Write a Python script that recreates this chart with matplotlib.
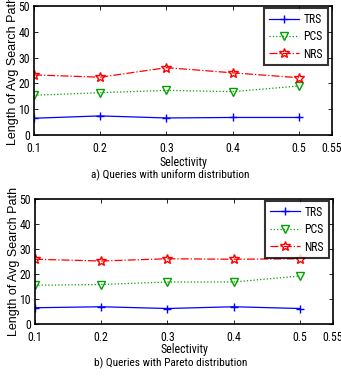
import matplotlib
matplotlib.use("Agg")
import matplotlib.pyplot as plt

plt.rcParams['font.family'] = ['Roboto Condensed', 'Liberation Sans', 'DejaVu Sans']

selectivity = [0.1, 0.2, 0.3, 0.4, 0.5]
xticks = [0.1, 0.2, 0.3, 0.4, 0.5, 0.55]
xticklabels = ['0.1', '0.2', '0.3', '0.4', '0.5', '0.55']
yticks = [0, 10, 20, 30, 40, 50]

trs_uniform = [6.5, 7.4, 6.6, 6.8, 6.8]
pcs_uniform = [15.4, 16.4, 17.3, 16.8, 19.0]
nrs_uniform = [23.3, 22.4, 26.1, 24.1, 22.2]

trs_pareto = [6.5, 6.9, 6.2, 6.9, 6.2]
pcs_pareto = [15.5, 15.8, 16.8, 16.8, 19.2]
nrs_pareto = [25.9, 25.2, 26.1, 25.9, 26.1]

captions = ['a) Queries with uniform distribution', 'b) Queries with Pareto distribution']

W, H = 341, 377
fig = plt.figure(figsize=(W / 100, H / 100), dpi=100)

def px_axes(left, top, right, bottom):
    return fig.add_axes([left / W, 1 - bottom / H, (right - left) / W, (bottom - top) / H])

panels = [
    (px_axes(34, 6, 332, 135), trs_uniform, pcs_uniform, nrs_uniform, captions[0], 175.5, -0.16),
    (px_axes(35, 199, 333, 324), trs_pareto, pcs_pareto, nrs_pareto, captions[1], 363.5, -0.155),
]

for ax, trs, pcs, nrs, cap, cy, ly in panels:
    ax.plot(selectivity, trs, color='#0000ff', linestyle='-', marker='+', markersize=6,
            markeredgewidth=1.0, linewidth=0.9, label='TRS')
    ax.plot(selectivity, pcs, color='#00a000', linestyle=':', marker='v', markersize=6,
            markerfacecolor='none', markeredgewidth=1.0, linewidth=0.9, label='PCS')
    ax.plot(selectivity, nrs, color='#ff0000', linestyle='-.', marker='*', markersize=7,
            markerfacecolor='none', markeredgewidth=1.0, linewidth=0.9, label='NRS')
    ax.set_xlim(0.1, 0.55)
    ax.set_ylim(0, 50)
    ax.set_xticks(xticks)
    ax.set_xticklabels(xticklabels)
    ax.set_yticks(yticks)
    ax.tick_params(direction='in', top=True, right=True, labelsize=8.5, length=3,
                   width=0.6, pad=3)
    ax.tick_params(axis='x', pad=5)
    for s in ax.spines.values():
        s.set_linewidth(1.2)
    ax.set_xlabel('Selectivity', fontsize=8.5)
    ax.xaxis.set_label_coords(0.5, ly)
    ax.set_ylabel('Length of Avg Search Path', fontsize=9, labelpad=-0.5,
                  family=['Liberation Sans', 'DejaVu Sans'])
    leg = ax.legend(loc='upper right', fontsize=8.5, frameon=True, fancybox=False,
                    edgecolor='black', bbox_to_anchor=(0.985, 0.985),
                    borderaxespad=0.0, handlelength=2.5, handletextpad=0.4,
                    labelspacing=0.38, borderpad=0.4)
    leg.get_frame().set_linewidth(1.5)
    fig.text(0.5, 1 - cy / H, cap, ha='center', va='center', fontsize=8.2)

fig.savefig('out.png', dpi=100)
